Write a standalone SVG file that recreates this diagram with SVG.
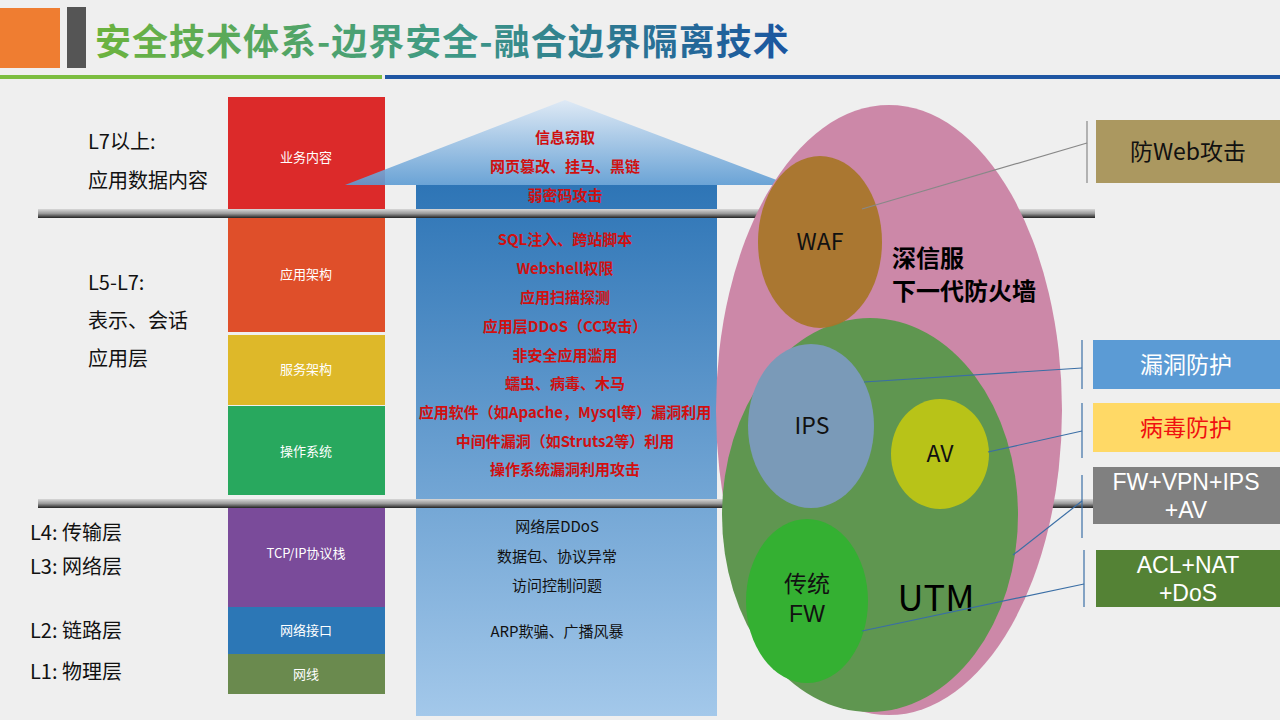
<svg xmlns="http://www.w3.org/2000/svg" width="1280" height="720" viewBox="0 0 1280 720">
<defs>
<linearGradient id="tg" x1="0" x2="1" y1="0" y2="0"><stop offset="0" stop-color="#6cb33e"/><stop offset="0.5" stop-color="#3f9a85"/><stop offset="1" stop-color="#1a55a0"/></linearGradient>
<linearGradient id="ab" x1="0" x2="0" y1="0" y2="1"><stop offset="0" stop-color="#2e75b6"/><stop offset="1" stop-color="#a3c8ea"/></linearGradient>
<linearGradient id="ah" x1="0" x2="0" y1="0" y2="1"><stop offset="0" stop-color="#dde9f6"/><stop offset="1" stop-color="#5c9bd3"/></linearGradient>
<linearGradient id="bar" x1="0" x2="0" y1="0" y2="1"><stop offset="0" stop-color="#d8d8d8"/><stop offset="0.5" stop-color="#9a9a9a"/><stop offset="1" stop-color="#222"/></linearGradient>
<style>
text{font-family:"Noto Sans CJK SC","Noto Sans",sans-serif}
.lbl{font-size:20px;fill:#111}
.box{font-size:13px;fill:#fff;text-anchor:middle}
.r{font-size:15px;fill:#d01010;font-weight:bold;text-anchor:middle}
.k{font-size:15px;fill:#111;text-anchor:middle}
.cl{font-size:23px;fill:#111;text-anchor:middle}
.rb{font-size:23px;text-anchor:middle}
.lat{font-family:"Liberation Sans","Noto Sans CJK SC",sans-serif}
.ln{stroke:#3a6ea5;stroke-width:1.2;fill:none}
</style>
</defs>
<rect width="1280" height="720" fill="#efefef"/>
<rect x="0" y="8" width="60" height="60" fill="#ef7d31"/>
<rect x="67" y="7" width="19" height="61" fill="#555"/>
<text x="95" y="55" font-size="36" font-weight="bold" letter-spacing="1" fill="url(#tg)">安全技术体系-边界安全-融合边界隔离技术</text>
<rect x="0" y="75" width="382" height="4" fill="#7bbd3f"/>
<rect x="385" y="75" width="895" height="4" fill="#1f56a3"/>

<g id="layers">
<rect x="228" y="97" width="157" height="120" fill="#dc2a2a"/><text class="box" x="306" y="162">业务内容</text>
<rect x="228" y="217" width="157" height="115" fill="#df4f2a"/><text class="box" x="306" y="279">应用架构</text>
<rect x="228" y="335" width="157" height="70" fill="#deb829"/><text class="box" x="306" y="374">服务架构</text>
<rect x="228" y="406" width="157" height="89" fill="#28a85e"/><text class="box" x="306" y="456">操作系统</text>
<rect x="228" y="500" width="157" height="107" fill="#7a4b9a"/><text class="box" x="306" y="558">TCP/IP协议栈</text>
<rect x="228" y="607" width="157" height="47" fill="#2c77b6"/><text class="box" x="306" y="635">网络接口</text>
<rect x="228" y="654" width="157" height="40" fill="#6a8a4e"/><text class="box" x="306" y="679">网线</text>
</g>

<g id="arrow">
<rect x="416" y="185" width="301" height="531" fill="url(#ab)"/>
<polygon points="345,185 565,100 790,185" fill="url(#ah)" opacity="0.9"/>
</g>

<rect x="38" y="209" width="1057" height="9" fill="url(#bar)"/>
<rect x="38" y="499" width="1242" height="9" fill="url(#bar)"/>

<g id="left-labels">
<text class="lbl" x="88" y="149">L7以上:</text>
<text class="lbl" x="88" y="188">应用数据内容</text>
<text class="lbl" x="88" y="290">L5-L7:</text>
<text class="lbl" x="88" y="328">表示、会话</text>
<text class="lbl" x="88" y="366">应用层</text>
<text class="lbl" x="30" y="540">L4: 传输层</text>
<text class="lbl" x="30" y="574">L3: 网络层</text>
<text class="lbl" x="30" y="638">L2: 链路层</text>
<text class="lbl" x="30" y="679">L1: 物理层</text>
</g>

<g id="threats">
<text class="r" x="565" y="143">信息窃取</text>
<text class="r" x="565" y="172">网页篡改、挂马、黑链</text>
<text class="r" x="565" y="201">弱密码攻击</text>
<text class="r" x="565" y="245">SQL注入、跨站脚本</text>
<text class="r" x="565" y="274">Webshell权限</text>
<text class="r" x="565" y="303">应用扫描探测</text>
<text class="r" x="565" y="332">应用层DDoS（CC攻击）</text>
<text class="r" x="565" y="361">非安全应用滥用</text>
<text class="r" x="565" y="389">蠕虫、病毒、木马</text>
<text class="r" x="565" y="418">应用软件（如Apache，Mysql等）漏洞利用</text>
<text class="r" x="565" y="447">中间件漏洞（如Struts2等）利用</text>
<text class="r" x="565" y="475">操作系统漏洞利用攻击</text>
<text class="k" x="557" y="532">网络层DDoS</text>
<text class="k" x="557" y="562">数据包、协议异常</text>
<text class="k" x="557" y="591">访问控制问题</text>
<text class="k" x="557" y="637">ARP欺骗、广播风暴</text>
</g>

<g id="ngfw"><ellipse cx="889" cy="410" rx="173" ry="305" fill="#cc88a8"/>
<text x="892" y="267" font-size="24" font-weight="bold" fill="#000">深信服</text>
<text x="892" y="300" font-size="24" font-weight="bold" fill="#000">下一代防火墙</text></g>
<g id="utm"><ellipse cx="870" cy="515" rx="148" ry="197" fill="#5f9650"/>
<text x="936" y="611" font-size="36" fill="#000" text-anchor="middle">UTM</text></g>
<g id="waf"><ellipse cx="820" cy="242" rx="62" ry="86" fill="#a8762a" opacity="0.95"/><text class="cl" x="820" y="250">WAF</text></g>
<g id="ips"><ellipse cx="811" cy="426" rx="63" ry="82" fill="#7a9ab8"/><text class="cl" x="812" y="434">IPS</text></g>
<g id="av"><ellipse cx="940" cy="454" rx="49" ry="55" fill="#b8c318"/><text class="cl" x="940" y="462">AV</text></g>
<g id="fw"><ellipse cx="807" cy="601" rx="61" ry="82" fill="#34b032"/><text class="cl" x="807" y="592">传统</text><text class="cl lat" x="807" y="622">FW</text></g>

<g id="callouts">
<rect x="1096" y="120" width="184" height="63" fill="#ab9860"/><text class="rb" x="1188" y="160" fill="#111">防Web攻击</text>
<rect x="1093" y="340" width="187" height="49" fill="#5b9bd5"/><text class="rb" x="1186" y="373" fill="#fff">漏洞防护</text>
<rect x="1093" y="403" width="187" height="49" fill="#ffd966"/><text class="rb" x="1186" y="436" fill="#f01010">病毒防护</text>
<rect x="1093" y="467" width="187" height="57" fill="#808080"/><text class="rb lat" x="1186" y="490" fill="#fff">FW+VPN+IPS</text><text class="rb lat" x="1186" y="518" fill="#fff">+AV</text>
<rect x="1096" y="550" width="184" height="57" fill="#548235"/><text class="rb lat" x="1188" y="573" fill="#fff">ACL+NAT</text><text class="rb lat" x="1188" y="601" fill="#fff">+DoS</text>
</g>

<g id="connectors">
<line x1="1087" y1="121" x2="1087" y2="183" stroke="#888" stroke-width="1.2"/>
<line x1="862" y1="209" x2="1087" y2="143" stroke="#888" stroke-width="1.2"/>
<line class="ln" x1="1082" y1="340" x2="1082" y2="389"/>
<line class="ln" x1="864" y1="382" x2="1082" y2="368"/>
<line class="ln" x1="1082" y1="403" x2="1082" y2="458"/>
<line class="ln" x1="988" y1="452" x2="1082" y2="431"/>
<line class="ln" x1="1082" y1="475" x2="1082" y2="538"/>
<line class="ln" x1="1013" y1="555" x2="1082" y2="501"/>
<line class="ln" x1="1084" y1="550" x2="1084" y2="607"/>
<line class="ln" x1="862" y1="631" x2="1084" y2="584"/>
</g>
</svg>
